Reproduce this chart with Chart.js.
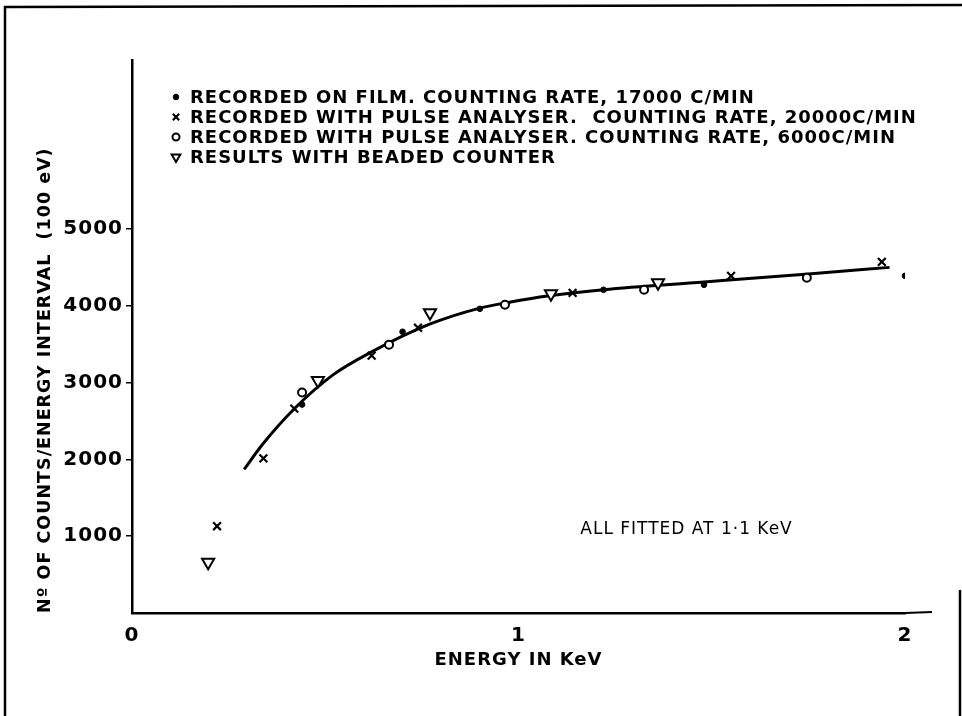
<!DOCTYPE html>
<html>
  <head>
    <title>Counts per energy interval</title>
    <script src="https://cdn.jsdelivr.net/npm/chart.js@4.4.0/dist/chart.umd.min.js"></script>
    <style>
      body { margin: 0; background: #fff; }
    </style>
  </head>
  <body>
    <canvas id="myChart" width="962" height="716"></canvas>
    <script>
      // values (energy in keV, counts per 100 eV)
      var filmX = [0.44, 0.70, 0.90, 1.22, 1.48, 2.00];
      var filmY = [2714, 3662, 3961, 4208, 4273, 4390];

      var pulseHighX = [0.22, 0.34, 0.42, 0.62, 0.74, 1.14, 1.55, 1.94];
      var pulseHighY = [1130, 2013, 2662, 3350, 3714, 4169, 4390, 4571];

      var pulseLowX = [0.44, 0.665, 0.965, 1.325, 1.746];
      var pulseLowY = [2870, 3494, 4013, 4208, 4364];

      var beadedX = [0.197, 0.481, 0.771, 1.084, 1.361];
      var beadedY = [662, 3026, 3909, 4156, 4299];

      var fitX = [0.29, 0.34, 0.42, 0.52, 0.62, 0.77, 0.90, 0.97, 1.08, 1.22, 1.48, 1.75, 1.96];
      var fitY = [1870, 2210, 2660, 3100, 3400, 3760, 3970, 4040, 4130, 4210, 4310, 4415, 4500];

      var xTicks = [0, 1, 2];
      var yTicks = [1000, 2000, 3000, 4000, 5000];

      var legendLabels = [
        "RECORDED ON FILM. COUNTING RATE, 17000 C/MIN",
        "RECORDED WITH PULSE ANALYSER.  COUNTING RATE, 20000C/MIN",
        "RECORDED WITH PULSE ANALYSER. COUNTING RATE, 6000C/MIN",
        "RESULTS WITH BEADED COUNTER",
      ];

      function toPoints(xs, ys) {
        return xs.map(function (x, i) {
          return { x: x, y: ys[i] };
        });
      }

      var FONT = "'DejaVu Sans', sans-serif";

      // the lettering on the original is wide, so space it out a little
      var spacing = {
        id: "spacing",
        beforeDraw: function (chart) {
          chart.ctx.letterSpacing = "1px";
        },
      };

      // frame, axis arrow, note and the legend block
      var extras = {
        id: "extras",
        afterDraw: function (chart) {
          var ctx = chart.ctx;
          var area = chart.chartArea;
          var xs = chart.scales.x;
          var ys = chart.scales.y;
          ctx.save();
          ctx.letterSpacing = "1px";
          ctx.strokeStyle = "#000";
          ctx.lineWidth = 2.5;
          ctx.beginPath();
          ctx.moveTo(5, 716);
          ctx.lineTo(5, 7);
          ctx.lineTo(962, 5);
          ctx.stroke();
          ctx.beginPath();
          ctx.moveTo(960, 590);
          ctx.lineTo(960, 716);
          ctx.stroke();

          // x axis runs on past 2
          ctx.lineWidth = 2;
          ctx.beginPath();
          ctx.moveTo(area.right, area.bottom);
          ctx.lineTo(area.right + 27, area.bottom - 1);
          ctx.stroke();

          ctx.fillStyle = "#000";
          ctx.font = "17px " + FONT;
          ctx.textBaseline = "middle";
          ctx.textAlign = "left";
          ctx.fillText("ALL FITTED AT 1·1 KeV", xs.getPixelForValue(1.16), ys.getPixelForValue(1080));

          // legend
          ctx.font = "bold 18px " + FONT;
          var top = 97;
          chart.data.datasets.forEach(function (ds, i) {
            if (i >= legendLabels.length) return;
            var y = top + i * 20;
            ctx.fillStyle = ds.backgroundColor;
            ctx.strokeStyle = ds.borderColor;
            ctx.lineWidth = ds.borderWidth;
            Chart.helpers.drawPoint(ctx, {
              pointStyle: ds.pointStyle,
              rotation: ds.rotation || 0,
              radius: ds.legendRadius,
              borderWidth: ds.borderWidth,
            }, 176, y);
            ctx.fillStyle = "#000";
            ctx.fillText(legendLabels[i], 190, y + 1);
          });
          ctx.restore();
        },
      };

      var ctx = document.getElementById("myChart").getContext("2d");

      var chart = new Chart(ctx, {
        type: "scatter",
        data: {
          datasets: [
            {
              label: "film",
              data: toPoints(filmX, filmY),
              pointStyle: "circle",
              pointRadius: 2.8,
              backgroundColor: "#000",
              borderColor: "#000",
              borderWidth: 1,
              legendRadius: 2.8,
            },
            {
              label: "pulse 20000",
              data: toPoints(pulseHighX, pulseHighY),
              pointStyle: "crossRot",
              pointRadius: 5.5,
              backgroundColor: "#000",
              borderColor: "#000",
              borderWidth: 2.2,
              legendRadius: 4.5,
            },
            {
              label: "pulse 6000",
              data: toPoints(pulseLowX, pulseLowY),
              pointStyle: "circle",
              pointRadius: 4,
              backgroundColor: "#fff",
              borderColor: "#000",
              borderWidth: 2,
              legendRadius: 3.5,
            },
            {
              label: "beaded",
              data: toPoints(beadedX, beadedY),
              pointStyle: "triangle",
              rotation: 180,
              pointRotation: 180,
              pointRadius: 7,
              backgroundColor: "#fff",
              borderColor: "#000",
              borderWidth: 2,
              legendRadius: 5,
            },
            {
              label: "fit",
              type: "line",
              data: toPoints(fitX, fitY),
              showLine: true,
              pointRadius: 0,
              borderColor: "#000",
              borderWidth: 3,
              cubicInterpolationMode: "monotone",
              fill: false,
            },
          ],
        },
        options: {
          responsive: false,
          animation: false,
          layout: { padding: { top: 60, right: 57, bottom: 0, left: 0 } },
          plugins: {
            legend: { display: false },
            tooltip: { enabled: false },
          },
          scales: {
            x: {
              type: "linear",
              min: 0,
              max: 2,
              afterFit: function (s) { s.height = 103; },
              afterBuildTicks: function (s) {
                s.ticks = xTicks.map(function (v) { return { value: v }; });
              },
              grid: { display: false },
              border: { display: true, color: "#000", width: 2.5 },
              ticks: {
                color: "#000",
                padding: 3,
                font: { family: FONT, size: 20, weight: "bold" },
                callback: function (v) { return String(v); },
              },
              title: {
                display: true,
                text: "ENERGY IN KeV",
                color: "#000",
                font: { family: FONT, size: 18, weight: "bold" },
                padding: { top: 0, bottom: 45 },
              },
            },
            y: {
              type: "linear",
              min: 0,
              max: 7200,
              afterFit: function (s) { s.width = 132; },
              afterBuildTicks: function (s) {
                s.ticks = yTicks.map(function (v) { return { value: v }; });
              },
              grid: {
                drawOnChartArea: false,
                drawTicks: true,
                tickLength: 6,
                color: "#000",
                lineWidth: 1.5,
              },
              border: { display: true, color: "#000", width: 2.5 },
              ticks: {
                color: "#000",
                padding: 3,
                font: { family: FONT, size: 20, weight: "bold" },
                callback: function (v) { return String(v); },
              },
              title: {
                display: true,
                text: "Nº OF COUNTS/ENERGY INTERVAL  (100 eV)",
                align: "start",
                color: "#000",
                font: { family: FONT, size: 17.5, weight: "bold" },
                padding: { top: 35, bottom: 0 },
              },
            },
          },
        },
        plugins: [spacing, extras],
      });
    </script>
  </body>
</html>
